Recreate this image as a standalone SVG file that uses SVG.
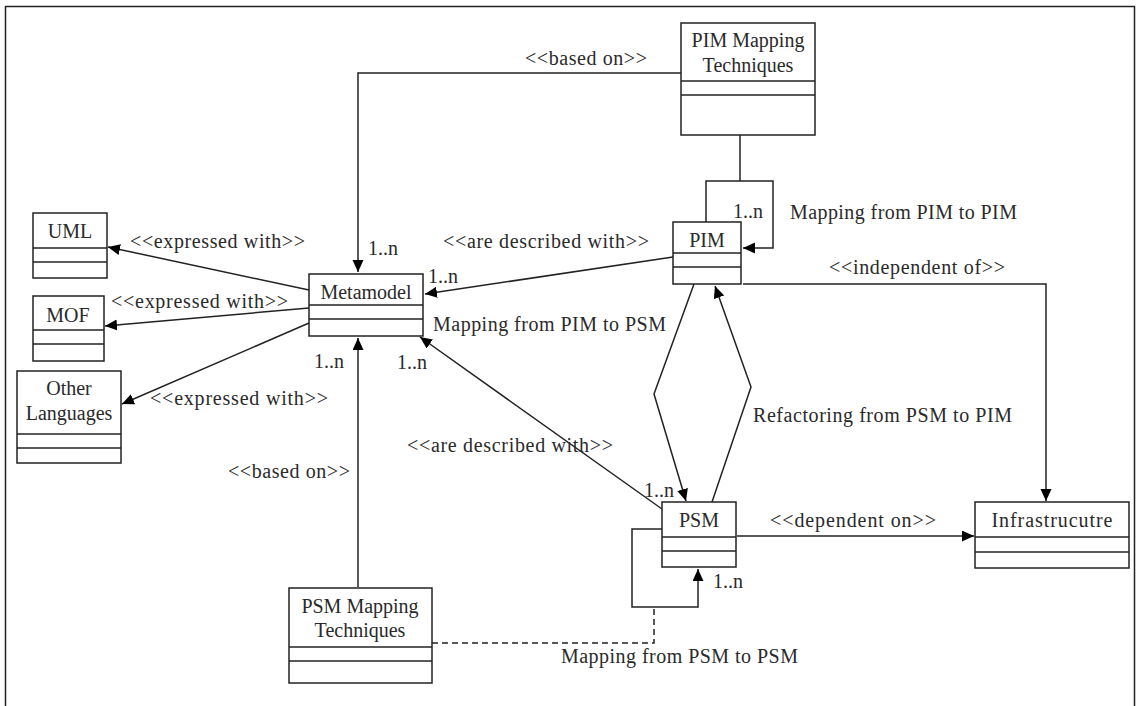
<svg xmlns="http://www.w3.org/2000/svg" width="1136" height="706" viewBox="0 0 1136 706">
<style>
text{font-family:"Liberation Serif","Times New Roman",serif;font-size:20px;fill:#2a2a2a}
.c{text-anchor:middle}
.box{fill:#fff;stroke:#222;stroke-width:1.5}
.sep{stroke:#222;stroke-width:1.5}
.ln{fill:none;stroke:#222;stroke-width:1.5}
.dash{fill:none;stroke:#222;stroke-width:1.5;stroke-dasharray:6,4}
</style>
<defs>
<marker id="ah" markerWidth="13" markerHeight="12" refX="12" refY="5.5" orient="auto" markerUnits="userSpaceOnUse">
<path d="M0,0 L12,5.5 L0,11 z" fill="#000"/>
</marker>
</defs>
<rect x="0" y="0" width="1136" height="706" fill="#fff"/>
<rect x="5.5" y="6.5" width="1129" height="712" fill="none" stroke="#222" stroke-width="1.5"/>

<g id="connectors">
<polyline class="ln" points="681,73 358,73 358,272" marker-end="url(#ah)"/>
<polyline class="ln" points="740,135 740,181"/>
<polyline class="ln" points="706,222 706,181 773,181 773,248 743,248" marker-end="url(#ah)"/>
<line class="ln" x1="309" y1="290" x2="108" y2="247" marker-end="url(#ah)"/>
<line class="ln" x1="309" y1="308" x2="105" y2="326" marker-end="url(#ah)"/>
<line class="ln" x1="309" y1="323" x2="122" y2="404" marker-end="url(#ah)"/>
<line class="ln" x1="673" y1="257" x2="425" y2="294" marker-end="url(#ah)"/>
<line class="ln" x1="662" y1="509" x2="420" y2="337" marker-end="url(#ah)"/>
<polyline class="ln" points="694,284 654,394 686,501" marker-end="url(#ah)"/>
<polyline class="ln" points="712,502 751,387 715,286" marker-end="url(#ah)"/>
<polyline class="ln" points="743,284 1046,284 1046,501" marker-end="url(#ah)"/>
<line class="ln" x1="737" y1="536" x2="974" y2="536" marker-end="url(#ah)"/>
<line class="ln" x1="358" y1="587" x2="358" y2="338" marker-end="url(#ah)"/>
<polyline class="ln" points="662,529 632,529 632,607 698,607 698,569" marker-end="url(#ah)"/>
<polyline class="dash" points="432,643 654,643 654,608"/>
</g>

<g id="labels">
<text x="525" y="65" textLength="122">&lt;&lt;based on&gt;&gt;</text>
<text x="733" y="218">1..n</text>
<text x="790" y="219" textLength="227">Mapping from PIM to PIM</text>
<text x="443" y="248" textLength="206">&lt;&lt;are described with&gt;&gt;</text>
<text x="829" y="274" textLength="176">&lt;&lt;independent of&gt;&gt;</text>
<text x="130" y="248" textLength="175">&lt;&lt;expressed with&gt;&gt;</text>
<text x="368" y="255">1..n</text>
<text x="428" y="283">1..n</text>
<text x="111" y="308" textLength="177">&lt;&lt;expressed with&gt;&gt;</text>
<text x="433" y="331" textLength="233">Mapping from PIM to PSM</text>
<text x="314" y="368">1..n</text>
<text x="397" y="369">1..n</text>
<text x="150" y="405" textLength="178">&lt;&lt;expressed with&gt;&gt;</text>
<text x="753" y="422" textLength="259">Refactoring from PSM to PIM</text>
<text x="407" y="452" textLength="206">&lt;&lt;are described with&gt;&gt;</text>
<text x="228" y="478" textLength="122">&lt;&lt;based on&gt;&gt;</text>
<text x="644" y="497">1..n</text>
<text x="770" y="527" textLength="166">&lt;&lt;dependent on&gt;&gt;</text>
<text x="713" y="588">1..n</text>
<text x="561" y="663" textLength="237">Mapping from PSM to PSM</text>
</g>

<g id="pim-mapping">
<rect class="box" x="681" y="23" width="134" height="112"/>
<line class="sep" x1="681" y1="81" x2="815" y2="81"/>
<line class="sep" x1="681" y1="95" x2="815" y2="95"/>
<text class="c" x="748" y="47">PIM Mapping</text>
<text class="c" x="748" y="72">Techniques</text>
</g>

<g id="pim">
<rect class="box" x="673" y="222" width="68" height="62"/>
<line class="sep" x1="673" y1="253" x2="741" y2="253"/>
<line class="sep" x1="673" y1="267" x2="741" y2="267"/>
<text class="c" x="707" y="247">PIM</text>
</g>

<g id="metamodel">
<rect class="box" x="309" y="274" width="114" height="62"/>
<line class="sep" x1="309" y1="305" x2="423" y2="305"/>
<line class="sep" x1="309" y1="319" x2="423" y2="319"/>
<text class="c" x="366" y="299">Metamodel</text>
</g>

<g id="uml">
<rect class="box" x="33" y="213" width="74" height="65"/>
<line class="sep" x1="33" y1="248" x2="107" y2="248"/>
<line class="sep" x1="33" y1="262" x2="107" y2="262"/>
<text class="c" x="70" y="238">UML</text>
</g>

<g id="mof">
<rect class="box" x="33" y="296" width="71" height="65"/>
<line class="sep" x1="33" y1="330" x2="104" y2="330"/>
<line class="sep" x1="33" y1="344" x2="104" y2="344"/>
<text class="c" x="68" y="322">MOF</text>
</g>

<g id="other-languages">
<rect class="box" x="17" y="371" width="104" height="92"/>
<line class="sep" x1="17" y1="434" x2="121" y2="434"/>
<line class="sep" x1="17" y1="448" x2="121" y2="448"/>
<text class="c" x="69" y="395">Other</text>
<text class="c" x="69" y="420">Languages</text>
</g>

<g id="psm">
<rect class="box" x="662" y="502" width="74" height="65"/>
<line class="sep" x1="662" y1="537" x2="736" y2="537"/>
<line class="sep" x1="662" y1="551" x2="736" y2="551"/>
<text class="c" x="699" y="527">PSM</text>
</g>

<g id="infrastructure">
<rect class="box" x="975" y="502" width="154" height="66"/>
<line class="sep" x1="975" y1="537" x2="1129" y2="537"/>
<line class="sep" x1="975" y1="552" x2="1129" y2="552"/>
<text class="c" x="1052" y="527" textLength="121">Infrastrucutre</text>
</g>

<g id="psm-mapping">
<rect class="box" x="289" y="588" width="143" height="95"/>
<line class="sep" x1="289" y1="647" x2="432" y2="647"/>
<line class="sep" x1="289" y1="661" x2="432" y2="661"/>
<text class="c" x="360" y="613">PSM Mapping</text>
<text class="c" x="360" y="637">Techniques</text>
</g>
</svg>
